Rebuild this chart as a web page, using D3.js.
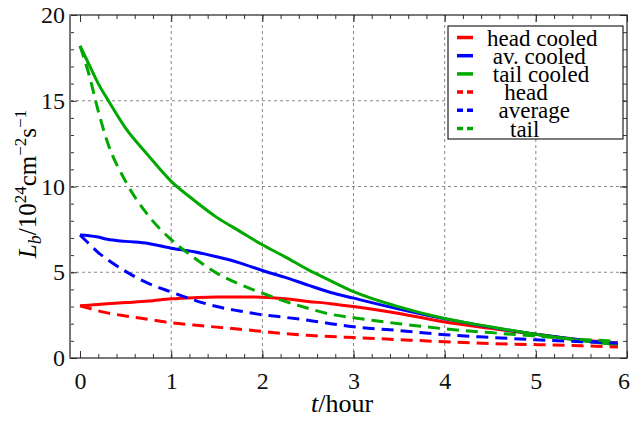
<!DOCTYPE html>
<html lang="en">
    <head>
        <meta charset="utf-8">
        <title>Luminosity vs time</title>
        <script type="text/javascript" src="https://cdn.jsdelivr.net/npm/d3@7"></script>
        <style type="text/css">
            body { margin: 0; background: #fff; }
            .legend text { white-space: pre; }
        </style>
    </head>
    <body>
        <script type="text/javascript">
            var w = 631;
            var h = 424;
            var margin = {left: 70, right: 4, top: 15, bottom: 66};
            var serif = "'Liberation Serif', 'Times New Roman', Times, 'DejaVu Serif', serif";

            // time samples (hours)
            var times = [0, 0.1, 0.2, 0.3, 0.5, 0.75, 1, 1.25, 1.5, 1.75, 2, 2.25, 2.5, 2.75, 3, 3.5, 4, 4.5, 5, 5.5, 5.9];

            // luminosity, 10^24 cm^-2 s^-1
            var headCooled = [3.04, 3.08, 3.12, 3.16, 3.23, 3.32, 3.45, 3.52, 3.56, 3.56, 3.54, 3.45, 3.30, 3.17, 3.00, 2.60, 2.10, 1.73, 1.38, 1.05, 0.88];
            var avCooled   = [7.17, 7.13, 7.05, 6.92, 6.80, 6.68, 6.40, 6.20, 5.90, 5.55, 5.10, 4.70, 4.25, 3.82, 3.49, 2.85, 2.28, 1.80, 1.38, 1.05, 0.78];
            var tailCooled = [18.2, 17.1, 16.0, 15.1, 13.4, 11.8, 10.3, 9.2, 8.2, 7.4, 6.6, 5.9, 5.15, 4.5, 3.87, 2.98, 2.3, 1.82, 1.38, 1.0, 0.77];
            var head       = [3.04, 2.90, 2.75, 2.63, 2.45, 2.25, 2.05, 1.92, 1.80, 1.68, 1.55, 1.42, 1.32, 1.25, 1.19, 1.07, 0.95, 0.84, 0.78, 0.71, 0.64];
            var average    = [7.17, 6.65, 6.15, 5.75, 5.05, 4.35, 3.85, 3.38, 3.00, 2.74, 2.52, 2.37, 2.20, 2.00, 1.82, 1.60, 1.36, 1.20, 1.06, 0.95, 0.87];
            var tail       = [18.2, 16.5, 14.4, 12.6, 10.3, 8.3, 6.9, 5.85, 4.95, 4.3, 3.78, 3.3, 2.9, 2.55, 2.35, 2.0, 1.7, 1.48, 1.28, 1.08, 0.98];

            var seriesNames = ["head cooled", " av. cooled", " tail cooled", "   head", "  average", "    tail"];
            var seriesColors = ["#ff0000", "#0000ff", "#00a800", "#ff0000", "#0000ff", "#00a800"];
            var seriesDashed = [false, false, false, true, true, true];
            var seriesValues = [headCooled, avCooled, tailCooled, head, average, tail];

            var xTicks = [0, 1, 2, 3, 4, 5, 6];
            var yTicks = [0, 5, 10, 15, 20];

            var svg = d3.select("body")
                        .append("svg")
                        .attr("width", w)
                        .attr("height", h);

            //Scales
            var xScale = d3.scaleLinear()
                            .domain([-0.11, 6])
                            .range([margin.left, w - margin.right]);
            var yScale = d3.scaleLinear()
                            .domain([0, 20])
                            .range([h - margin.bottom, margin.top]);

            var x0 = xScale.range()[0], x1 = xScale.range()[1];
            var y0 = yScale.range()[0], y1 = yScale.range()[1];

            //Grid lines (dashed)
            svg.append("g").selectAll("line")
                .data(xTicks.slice(1, -1))
                .enter().append("line")
                .attr("x1", function(d){ return xScale(d); })
                .attr("x2", function(d){ return xScale(d); })
                .attr("y1", y0).attr("y2", y1)
                .attr("stroke", "#888").attr("stroke-width", 1)
                .attr("stroke-dasharray", "3,3");
            svg.append("g").selectAll("line")
                .data(yTicks.slice(1, -1))
                .enter().append("line")
                .attr("y1", function(d){ return yScale(d); })
                .attr("y2", function(d){ return yScale(d); })
                .attr("x1", x0).attr("x2", x1)
                .attr("stroke", "#888").attr("stroke-width", 1)
                .attr("stroke-dasharray", "3,3");

            //Axes, ticks pointing inward on all four sides
            var minorX = d3.range(0, 30.5, 1).map(function(i){ return i / 5; });
            var minorY = d3.range(0, 21, 1);

            function addAxis(axis, transform) {
                var g = svg.append("g")
                    .attr("transform", transform)
                    .call(axis);
                g.select(".domain").remove();
                g.selectAll("line").attr("stroke", "#333");
                g.selectAll("text")
                    .style("font-family", serif)
                    .style("font-size", "24px")
                    .attr("fill", "#111");
                return g;
            }

            var bottom = addAxis(d3.axisBottom(xScale).tickValues(xTicks).tickSize(-7).tickPadding(14)
                        .tickFormat(d3.format("d")), "translate(0," + y0 + ")");
            //keep the last label inside the window
            bottom.selectAll("text").filter(function(d){ return d === 6; }).attr("dx", "-0.15em");
            addAxis(d3.axisBottom(xScale).tickValues(minorX).tickSize(-4).tickFormat(""), "translate(0," + y0 + ")");
            addAxis(d3.axisTop(xScale).tickValues(xTicks).tickSize(-7).tickFormat(""), "translate(0," + y1 + ")");
            addAxis(d3.axisTop(xScale).tickValues(minorX).tickSize(-4).tickFormat(""), "translate(0," + y1 + ")");

            addAxis(d3.axisLeft(yScale).tickValues(yTicks).tickSize(-7).tickPadding(5)
                        .tickFormat(d3.format("d")), "translate(" + x0 + ",0)");
            addAxis(d3.axisLeft(yScale).tickValues(minorY).tickSize(-4).tickFormat(""), "translate(" + x0 + ",0)");
            addAxis(d3.axisRight(yScale).tickValues(yTicks).tickSize(-7).tickFormat(""), "translate(" + x1 + ",0)");
            addAxis(d3.axisRight(yScale).tickValues(minorY).tickSize(-4).tickFormat(""), "translate(" + x1 + ",0)");

            //Frame
            svg.append("rect")
                .attr("x", x0).attr("y", y1)
                .attr("width", x1 - x0).attr("height", y0 - y1)
                .attr("fill", "none").attr("stroke", "#222").attr("stroke-width", 1.2);
            svg.append("line")
                .attr("x1", x0).attr("x2", x0).attr("y1", y0).attr("y2", y1)
                .attr("stroke", "#777").attr("stroke-width", 2);

            //Curves
            var line = d3.line()
                .x(function(d){ return xScale(d[0]); })
                .y(function(d){ return yScale(d[1]); })
                .curve(d3.curveMonotoneX);

            seriesValues.forEach(function(vals, i){
                svg.append("path")
                    .datum(times.map(function(t, j){ return [t, vals[j]]; }))
                    .attr("d", line)
                    .attr("fill", "none")
                    .attr("stroke", seriesColors[i])
                    .attr("stroke-width", 3)
                    .attr("stroke-dasharray", seriesDashed[i] ? "12,7" : null);
            });

            //Axis titles
            var xt = svg.append("text")
                .attr("x", 342).attr("y", 412)
                .attr("text-anchor", "middle")
                .style("font-family", serif)
                .style("font-size", "26px");
            xt.append("tspan").attr("font-style", "italic").text("t");
            xt.append("tspan").text("/hour");

            var yt = svg.append("text")
                .attr("transform", "translate(36,184) rotate(-90)")
                .attr("text-anchor", "middle")
                .style("font-family", serif)
                .style("font-size", "25px");
            yt.append("tspan").attr("font-style", "italic").text("L");
            yt.append("tspan").attr("font-style", "italic").style("font-size", "18px").attr("dy", 5).text("b");
            yt.append("tspan").attr("dy", -5).text("/10");
            yt.append("tspan").style("font-size", "17px").attr("dy", -10).text("24");
            yt.append("tspan").attr("dy", 10).text("cm");
            yt.append("tspan").style("font-size", "17px").attr("dy", -10).text("\u22122");
            yt.append("tspan").attr("dy", 10).text("s");
            yt.append("tspan").style("font-size", "17px").attr("dy", -10).text("\u22121");

            //Legend
            var legend = svg.append("g").attr("class", "legend");
            legend.append("rect")
                .attr("x", 448).attr("y", 26)
                .attr("width", 175).attr("height", 113)
                .attr("fill", "#fff").attr("stroke", "#222").attr("stroke-width", 1.2);
            var rows = legend.selectAll("g.row")
                .data(seriesNames)
                .enter().append("g")
                .attr("class", "row")
                .attr("transform", function(d, i){ return "translate(0," + (37.5 + i * 18.2) + ")"; });
            rows.append("line")
                .attr("x1", 457).attr("x2", 473)
                .attr("stroke", function(d, i){ return seriesColors[i]; })
                .attr("stroke-width", 3.5)
                .attr("stroke-dasharray", function(d, i){ return seriesDashed[i] ? "6,4" : null; });
            rows.append("text")
                .attr("x", 487).attr("y", 8)
                .style("font-family", serif)
                .style("font-size", "23px")
                .text(function(d){ return d; });
        </script>
    </body>
</html>
